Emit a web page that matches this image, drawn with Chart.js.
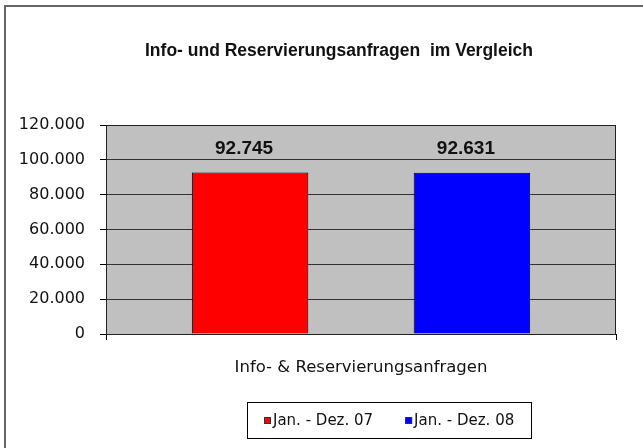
<!DOCTYPE html>
<html>
<head>
<meta charset="utf-8">
<script src="https://cdn.jsdelivr.net/npm/chart.js@4.4.1/dist/chart.umd.min.js"></script>
<style>
  html, body { margin: 0; padding: 0; background: #fff; }
  canvas { display: block; }
</style>
</head>
<body>
<canvas id="chart" width="643" height="448"></canvas>
<script>
// DATA
const titleText = 'Info- und Reservierungsanfragen  im Vergleich';
const categories = ['Info- & Reservierungsanfragen'];
const seriesLabels = ['Jan. - Dez. 07', 'Jan. - Dez. 08'];
const values07 = [92745];
const values08 = [92631];
const seriesColors = ['#ff0000', '#0000ff'];
const yMin = 0;
const yMax = 120000;
const yStep = 20000;

// german thousands separator
function fmt(v) {
    return String(v).replace(/\B(?=(\d{3})+(?!\d))/g, '.');
}

// background, outer frame, grey plot area
const backdrop = {
    id: 'backdrop',
    beforeDraw(chart) {
        const c = chart.ctx;
        const a = chart.chartArea;
        c.save();
        c.fillStyle = '#fff';
        c.fillRect(0, 0, chart.width, chart.height);
        c.strokeStyle = '#666';
        c.lineWidth = 2;
        c.strokeRect(5, 6, chart.width + 20, chart.height + 20);
        c.fillStyle = '#c0c0c0';
        c.fillRect(a.left, a.top, a.right - a.left, a.bottom - a.top);
        c.restore();
    },
    beforeDatasetsDraw(chart) {
        const c = chart.ctx;
        const a = chart.chartArea;
        c.save();
        c.strokeStyle = '#222';
        c.lineWidth = 1;
        c.strokeRect(a.left + 0.5, a.top + 0.5, a.right - a.left - 1, a.bottom - a.top);
        c.restore();
    }
};

// title, value labels and boxed legend
const extras = {
    id: 'extras',
    afterDraw(chart) {
        const c = chart.ctx;
        c.save();

        // Title
        c.fillStyle = '#111';
        c.font = 'bold 17.5px "Liberation Sans", Arial, sans-serif';
        c.textAlign = 'center';
        c.textBaseline = 'middle';
        c.fillText(titleText, 339, 51);

        // Value labels
        c.font = 'bold 19px "Liberation Sans", Arial, sans-serif';
        chart.data.datasets.forEach((ds, i) => {
            const meta = chart.getDatasetMeta(i);
            meta.data.forEach((bar, j) => {
                c.fillText(fmt(ds.data[j]), bar.x - 6, bar.y - 24);
            });
        });

        // Legend
        c.font = '15px "DejaVu Sans", sans-serif';
        c.textAlign = 'left';
        const sq = 7, gapTxt = 2, gapItem = 32, padX = 17;
        const widths = chart.data.datasets.map(ds => sq + gapTxt + c.measureText(ds.label).width);
        const inner = widths.reduce((s, w) => s + w, 0) + gapItem * (widths.length - 1);
        const boxW = inner + padX * 2;
        const boxH = 36;
        const cx = 389, top = 402;
        const left = Math.round(cx - boxW / 2);
        c.fillStyle = '#fff';
        c.fillRect(left, top, boxW, boxH);
        c.strokeStyle = '#000';
        c.lineWidth = 1;
        c.strokeRect(left + 0.5, top + 0.5, Math.round(boxW), boxH);
        let x = left + padX;
        const midY = top + boxH / 2;
        chart.data.datasets.forEach((ds, i) => {
            c.fillStyle = ds.backgroundColor;
            c.fillRect(x, midY - 3, sq, sq);
            c.strokeStyle = '#333';
            c.strokeRect(x + 0.5, midY - 2.5, sq - 1, sq - 1);
            c.fillStyle = '#111';
            c.fillText(ds.label, x + sq + gapTxt, midY + 1);
            x += widths[i] + gapItem;
        });
        c.restore();
    }
};

const ctx = document.getElementById('chart').getContext('2d');
const chart = new Chart(ctx, {
    type: 'bar',
    data: {
        labels: categories,
        datasets: [{
            label: seriesLabels[0],
            data: values07,
            backgroundColor: seriesColors[0],
            borderColor: '#000',
            borderWidth: 1
        }, {
            label: seriesLabels[1],
            data: values08,
            backgroundColor: seriesColors[1],
            borderColor: '#000',
            borderWidth: 1
        }]
    },
    options: {
        responsive: false,
        animation: false,
        categoryPercentage: 0.87,
        barPercentage: 0.525,
        layout: { padding: { left: 10, right: 27, top: 125, bottom: 64 } },
        plugins: {
            legend: { display: false },
            title: { display: false },
            tooltip: { enabled: false }
        },
        scales: {
            x: {
                afterFit: (s) => { s.height = 50; },
                grid: { display: true, drawOnChartArea: false, drawTicks: true, tickLength: 6, color: '#000' },
                border: { color: '#000' },
                ticks: {
                    color: '#111',
                    padding: 18,
                    font: { family: '"DejaVu Sans", sans-serif', size: 16.5 }
                }
            },
            y: {
                min: yMin,
                max: yMax,
                afterFit: (s) => { s.width = 96; },
                grid: { color: '#333', tickColor: '#000', tickLength: 6 },
                border: { color: '#000' },
                ticks: {
                    stepSize: yStep,
                    color: '#111',
                    padding: 15,
                    font: { family: '"DejaVu Sans", sans-serif', size: 16 },
                    callback: (v) => fmt(v)
                }
            }
        }
    },
    plugins: [backdrop, extras]
});
</script>
</body>
</html>
